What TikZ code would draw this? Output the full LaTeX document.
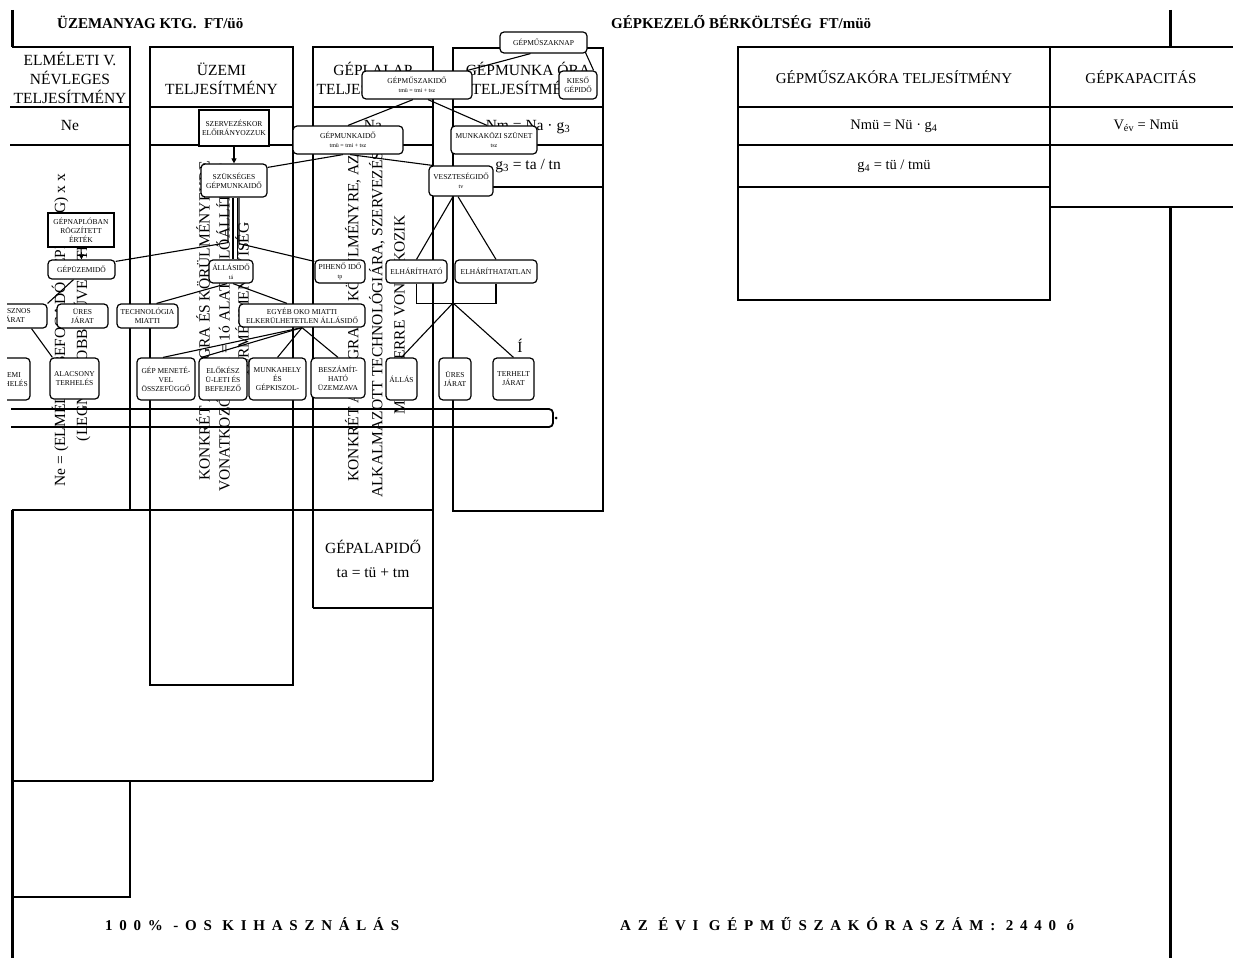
\documentclass[tikz,border=0pt]{standalone}
\usepackage{fontspec}
\setmainfont{Liberation Serif}
\newfontfamily\lsfont[LetterSpace=45]{Liberation Serif}
\usetikzlibrary{calc,arrows.meta}
\pgfdeclarelayer{bg}
\pgfsetlayers{bg,main}
\newcommand{\smf}{\fontsize{6}{7}\selectfont}
\begin{document}
\begin{tikzpicture}[x=1pt,y=-1pt,
  col/.style={line width=1.8pt},
  heavy/.style={line width=3pt},
  conn/.style={line width=1.1pt},
  bx/.style={draw, fill=white, line width=1.2pt, inner sep=0.5pt, align=center, font=\fontsize{7.5}{9}\selectfont},
  rbox/.style={bx, rounded corners=4pt},
  sbox/.style={bx},
  hd/.style={font=\fontsize{15.5}{19}\selectfont, align=center, inner sep=0pt},
  rt/.style={font=\fontsize{14.5}{18}\selectfont, align=center, inner sep=0pt},
  rot/.style={rotate=90, font=\fontsize{15.5}{18}\selectfont, inner sep=0pt},
  tophead/.style={anchor=west, inner sep=0pt, font=\bfseries\fontsize{15}{18}\selectfont},
  bothead/.style={anchor=west, inner sep=0pt, font=\lsfont\bfseries\fontsize{15}{18}\selectfont},
  arr/.style={conn, -{Triangle[length=5pt,width=5pt]}}]
\useasboundingbox (0,0) rectangle (1233,958);
\clip (7,0) rectangle (1233,958);

% ---------- boxes (main layer, on top) ----------
\node[rbox, minimum width=87pt, minimum height=21pt] (gmnap) at (543.5,42.5) {GÉPMŰSZAKNAP};
\node[rbox, minimum width=110pt, minimum height=28pt] (gmszi) at (417,85) {GÉPMŰSZAKIDŐ\\{\smf tmü = tmi + tsz}};
\node[rbox, minimum width=38pt, minimum height=28pt] (kieso) at (578,85) {KIESŐ\\GÉPIDŐ};
\node[rbox, minimum width=110pt, minimum height=28pt] (gmi) at (348,140) {GÉPMUNKAIDŐ\\{\smf tmü = tmi + tsz}};
\node[rbox, minimum width=86pt, minimum height=28pt] (mksz) at (494,140) {MUNKAKÖZI SZÜNET\\{\smf tsz}};
\node[rbox, minimum width=64pt, minimum height=30pt] (veszt) at (461,181) {VESZTESÉGIDŐ\\{\smf tv}};
\node[sbox, minimum width=70pt, minimum height=36pt] (szerv) at (234,128) {SZERVEZÉSKOR\\ELŐIRÁNYOZZUK};
\node[rbox, minimum width=66pt, minimum height=33pt] (szuks) at (234,180.5) {SZÜKSÉGES\\GÉPMUNKAIDŐ};
\node[sbox, minimum width=66pt, minimum height=34pt] (gnapl) at (81,230) {GÉPNAPLÓBAN\\RÖGZÍTETT\\ÉRTÉK};
\node[rbox, minimum width=67pt, minimum height=19pt] (gpuz) at (81.5,269.5) {GÉPÜZEMIDŐ};
\node[rbox, minimum width=44pt, minimum height=23pt] (allas) at (231,271.5) {ÁLLÁSIDŐ\\{\smf tá}};
\node[rbox, minimum width=50pt, minimum height=23pt] (pihen) at (340,271.5) {PIHENŐ IDŐ\\{\smf tp}};
\node[rbox, minimum width=61pt, minimum height=23pt] (elhar) at (416.5,271.5) {ELHÁRÍTHATÓ};
\node[rbox, minimum width=82pt, minimum height=23pt] (elhat) at (496,271.5) {ELHÁRÍTHATATLAN};
\node[rbox, minimum width=67pt, minimum height=24pt] (hasz) at (13.5,316) {HASZNOS\\JÁRAT};
\node[rbox, minimum width=51pt, minimum height=24pt] (ures1) at (82.5,316) {ÜRES\\JÁRAT};
\node[rbox, minimum width=61pt, minimum height=24pt] (techn) at (147.5,316) {TECHNOLÓGIA\\MIATTI};
\node[rbox, minimum width=126pt, minimum height=23pt] (egyeb) at (302,315.5) {EGYÉB OKO MIATTI\\ELKERÜLHETETLEN ÁLLÁSIDŐ};
\node[rbox, minimum width=42pt, minimum height=42pt] (uzemi) at (9,379) {ÜZEMI\\TERHELÉS};
\node[rbox, minimum width=49pt, minimum height=41pt] (alacs) at (74.5,378.5) {ALACSONY\\TERHELÉS};
\node[rbox, minimum width=58pt, minimum height=42pt] (gepmen) at (166,379) {GÉP MENETÉ-\\VEL\\ÖSSZEFÜGGŐ};
\node[rbox, minimum width=48pt, minimum height=42pt] (elok) at (223,379) {ELŐKÉSZ\\Ü-LETI ÉS\\BEFEJEZŐ};
\node[rbox, minimum width=57pt, minimum height=42pt] (munkah) at (277.5,379) {MUNKAHELY\\ÉS\\GÉPKISZOL-};
\node[rbox, minimum width=54pt, minimum height=40pt] (beszam) at (338,378) {BESZÁMÍT-\\HATÓ\\ÜZEMZAVA};
\node[rbox, minimum width=31pt, minimum height=42pt] (allas2) at (401.5,379) {ÁLLÁS};
\node[rbox, minimum width=32pt, minimum height=42pt] (ures2) at (455,379) {ÜRES\\JÁRAT};
\node[rbox, minimum width=41pt, minimum height=42pt] (terh) at (513.5,379) {TERHELT\\JÁRAT};

\node[hd] (stray) at (520,346) {Í};

\begin{pgfonlayer}{bg}
% ---------- rotated texts (behind everything) ----------
\node[rot] (ta) at (60,330) {Ne = (ELMÉLETI BEFOGADÓ KÉPESSÉG) x x};
\node[rot] (tb) at (82,341) {(LEGNAGYOBB MŰVELETI)};
\node[rot] (tc) at (203,321) {KONKRÉT ANYAGRA ÉS KÖRÜLMÉNYEKRE};
\node[rot] (td) at (223,328) {VONATKOZÓAN tü = 1ó ALATT ELŐÁLLÍTOTT};
\node[rot] (te) at (242,300) {TERMÉKMENNYISÉG};
\node[rot] (tf) at (353,318) {KONKRÉT ANYAGRA ÉS KÖRÜLMÉNYRE, AZ};
\node[rot] (tg) at (377,322) {ALKALMAZOTT TECHNOLÓGIÁRA, SZERVEZÉSI};
\node[rot] (th) at (398,315) {MÓDSZERRE VONATKOZIK};

% ---------- frame lines ----------
\draw[heavy] (12,10) -- (12,47);
\draw[heavy] (12,510) -- (12,958);
\draw[heavy] (1170,10) -- (1170,47);
\draw[heavy] (1170,207) -- (1170,958);
\draw[col] (12,47) -- (130,47) -- (130,510);
\draw[col] (10,107) -- (130,107);
\draw[col] (10,145) -- (130,145);
\draw[col] (150,47) rectangle (293,685);
\draw[col] (150,107) -- (293,107);
\draw[col] (150,145) -- (293,145);
\draw[col] (313,608) -- (313,47) -- (433,47) -- (433,781);
\draw[col] (313,107) -- (433,107);
\draw[col] (313,145) -- (433,145);
\draw[col] (313,608) -- (433,608);
\draw[col] (12,510) -- (433,510);
\draw[col] (12,781) -- (433,781);
\draw[col] (130,781) -- (130,897) -- (12,897);
\draw[col] (453,48) rectangle (603,511);
\draw[col] (453,107) -- (603,107);
\draw[col] (453,145) -- (603,145);
\draw[col] (453,187) -- (603,187);
\draw[col] (738,47) rectangle (1050,300);
\draw[col] (738,107) -- (1050,107);
\draw[col] (738,145) -- (1050,145);
\draw[col] (738,187) -- (1050,187);
\draw[col] (1050,47) -- (1233,47);
\draw[col] (1050,107) -- (1233,107);
\draw[col] (1050,145) -- (1233,145);
\draw[col] (1050,207) -- (1233,207);

% ---------- texts of the tables ----------
\node[tophead] (top1) at (57,22) {ÜZEMANYAG KTG.\ \ FT/üö};
\node[tophead] (top2) at (611,22) {GÉPKEZELŐ BÉRKÖLTSÉG\ \ FT/müö};
\node[hd] (h1) at (70,78) {ELMÉLETI V.\\NÉVLEGES\\TELJESÍTMÉNY};
\node[hd] (h2) at (221.5,79) {ÜZEMI\\TELJESÍTMÉNY};
\node[hd] (h3) at (373,78) {GÉPLALAP\\TELJESÍTMÉNY};
\node[hd] (h4) at (528,78) {GÉPMUNKA ÓRA\\TELJESÍTMÉNY};
\node[hd] (r1) at (70,126) {Ne};
\node[hd] (r3) at (373,126) {Na};
\node[hd] (r4) at (528,127) {Nm = Na · g\textsubscript{3}};
\node[hd] (r4b) at (528,166) {g\textsubscript{3} = ta / tn};
\node[hd] (gal) at (373,559) {GÉPALAPIDŐ\\[5pt]ta = tü + tm};
\node[hd, font=\fontsize{15}{18}\selectfont] (h5) at (894,77) {GÉPMŰSZAKÓRA TELJESÍTMÉNY};
\node[hd, font=\fontsize{15}{18}\selectfont] (h6) at (1141,77) {GÉPKAPACITÁS};
\node[rt] (r5) at (894,126) {Nmü = Nü · g\textsubscript{4}};
\node[rt] (r6) at (1146,126) {V\textsubscript{év} = Nmü};
\node[rt] (r5b) at (894,166) {g\textsubscript{4} = tü / tmü};
\node[bothead] (b1) at (105,924) {100\% -OS KIHASZNÁLÁS};
\node[bothead] (b2) at (620,924) {AZ ÉVI GÉPMŰSZAKÓRASZÁM: 2440 ó};

% ---------- double bar ----------
\draw[col, rounded corners=4pt] (11,409) -- (553,409) -- (553,427) -- (11,427);
\fill (556,418) circle (1.5);

% ---------- connectors ----------
\draw[conn] ($(gmnap.south)+(-13,0)$) -- ($(gmszi.north east)+(-5,0)$);
\draw[conn] ($(gmnap.south east)+(-3,-3)$) -- ($(kieso.north east)+(-4,0)$);
\draw[conn] ($(gmszi.south)+(-4,0)$) -- (gmi.north);
\draw[conn] ($(gmszi.south)+(11,0)$) -- ($(mksz.north)+(-7,0)$);
\draw[conn] ($(gmi.south)+(-5,0)$) -- ($(szuks.north east)+(0,4)$);
\draw[conn] ($(gmi.south)+(2,0)$) -- ($(veszt.north west)+(4,0)$);
\draw[arr] (szerv.south) -- (szuks.north);
\coordinate (d1) at ($(szuks.south)+(-1,0)$);
\coordinate (d2) at ($(szuks.south)+(3.5,0)$);
\coordinate (d3) at ($(szuks.south)+(-6,0)$);
\coordinate (d4) at ($(szuks.south)+(5,0)$);
\draw[conn] (d1) -- (d1 |- allas.north);
\draw[conn] (d2) -- (d2 |- allas.north);
\draw[conn] (d3) -- ++(0,45) -- ($(gpuz.north east)+(0,2)$);
\draw[conn] (d4) -- ++(0,46) -- ($(pihen.north west)+(0,2)$);
\draw[arr] (gnapl.south) -- (gpuz.north);
\draw[conn] ($(gpuz.south)+(-8,0)$) -- (hasz.north east);
\draw[conn] ($(hasz.south)+(18,0)$) -- ($(alacs.north west)+(3,0)$);
\draw[conn] ($(allas.south)+(-4,0)$) -- ($(techn.north)+(9,0)$);
\draw[conn] ($(allas.south)+(2,0)$) -- ($(egyeb.north)+(-15,0)$);
\draw[conn] (egyeb.south) -- ($(gepmen.north)+(-3,0)$);
\draw[conn] (egyeb.south) -- ($(elok.north west)+(3,0)$);
\draw[conn] (egyeb.south) -- (munkah.north);
\draw[conn] (egyeb.south) -- (beszam.north);
\draw[conn] ($(veszt.south)+(-8,0)$) -- (elhar.north);
\draw[conn] ($(veszt.south)+(-3,0)$) -- (elhat.north);
\draw[conn] (elhar.south) -- ++(0,20) -| (elhat.south);
\coordinate (br) at (453,303);
\draw[conn] (br) -- (allas2.north);
\draw[conn] (br) -- (terh.north);
\end{pgfonlayer}
\end{tikzpicture}
\end{document}
